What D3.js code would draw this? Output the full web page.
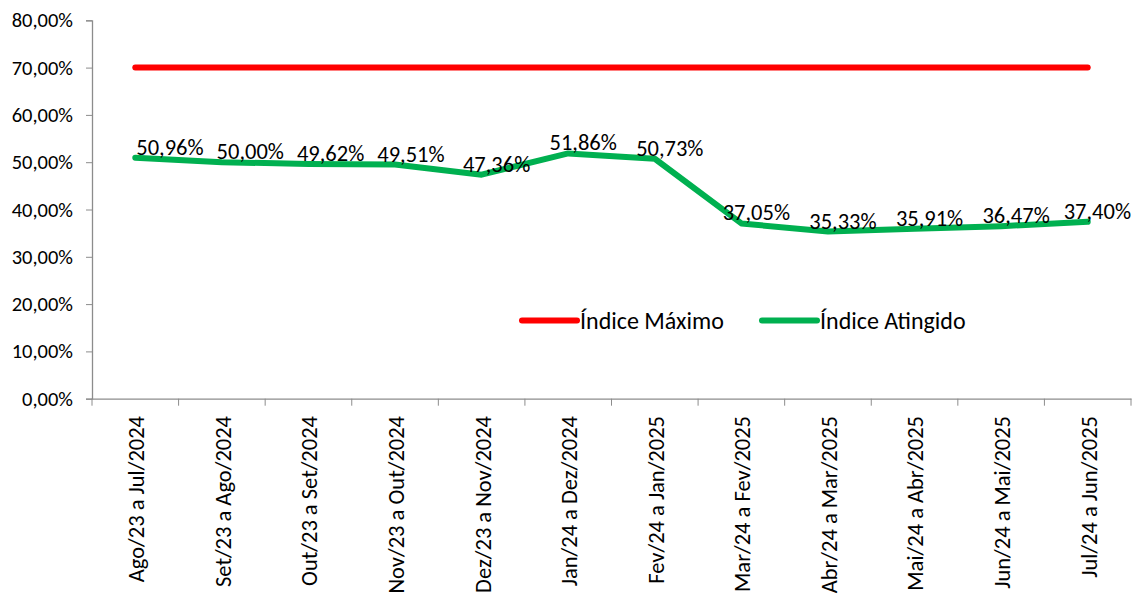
<!DOCTYPE html>
<html>
<head>
<meta charset="utf-8">
<script src="https://cdn.jsdelivr.net/npm/d3@7"></script>
<style>
  html, body { margin: 0; padding: 0; background: #fff; }
  svg text { font-family: Carlito, Lato, "Liberation Sans", sans-serif; fill: #000; }
</style>
</head>
<body>
<svg id="chart"></svg>
<script>
// chart data
const periods = [
  "Ago/23 a Jul/2024", "Set/23 a Ago/2024", "Out/23 a Set/2024", "Nov/23 a Out/2024",
  "Dez/23 a Nov/2024", "Jan/24 a Dez/2024", "Fev/24 a Jan/2025", "Mar/24 a Fev/2025",
  "Abr/24 a Mar/2025", "Mai/24 a Abr/2025", "Jun/24 a Mai/2025", "Jul/24 a Jun/2025"
];
const indiceMaximo = [70, 70, 70, 70, 70, 70, 70, 70, 70, 70, 70, 70];
const indiceAtingido = [50.96, 50.00, 49.62, 49.51, 47.36, 51.86, 50.73, 37.05, 35.33, 35.91, 36.47, 37.40];
const yTicks = [0, 10, 20, 30, 40, 50, 60, 70, 80];
const seriesNames = ["Índice Máximo", "Índice Atingido"];

const width = 1133, height = 603;
const plotLeft = 92, plotRight = 1131, plotTop = 20.3, plotBottom = 398.7;
const fmt = v => v.toFixed(2).replace(".", ",") + "%";
const axisColor = "#8c8c8c";
const red = "#ff0000", green = "#00b050";

const svg = d3.select("#chart")
  .attr("width", width)
  .attr("height", height);

// scales
const xScale = d3.scaleBand()
  .domain(periods)
  .range([plotLeft, plotRight]);

const yScale = d3.scaleLinear()
  .domain([0, 80])
  .range([plotBottom, plotTop]);

// y axis
const yAxis = svg.append("g")
  .attr("transform", `translate(${plotLeft},0)`)
  .call(d3.axisLeft(yScale).tickValues(yTicks).tickSize(6).tickPadding(13).tickFormat(fmt));

// x axis
const xAxis = svg.append("g")
  .attr("transform", `translate(0,${plotBottom})`)
  .call(d3.axisBottom(xScale).tickSize(0).tickFormat(""));

// tick marks on category boundaries
xAxis.selectAll(".boundary")
  .data(d3.range(periods.length + 1))
  .enter().append("line")
  .attr("class", "boundary")
  .attr("x1", i => plotLeft + i * xScale.step())
  .attr("x2", i => plotLeft + i * xScale.step())
  .attr("y1", 0)
  .attr("y2", 7)
  .attr("stroke", axisColor);

[xAxis, yAxis].map((axis) => {
  axis.select(".domain").attr("stroke", axisColor).attr("stroke-width", 1.3);
  axis.selectAll(".tick line").attr("stroke", axisColor);
  return true;
});

yAxis.selectAll(".tick text")
  .style("font-size", "20.5px")
  .attr("fill", "#000");
yAxis.attr("font-family", null);
xAxis.attr("font-family", null);

// rotated category labels
svg.append("g")
  .selectAll("text")
  .data(periods)
  .enter().append("text")
  .attr("transform", d => `translate(${xScale(d) + xScale.bandwidth() / 2 + 1},416) rotate(-90)`)
  .attr("text-anchor", "end")
  .attr("dy", "0.35em")
  .style("font-size", "22.5px")
  .text(d => d);

// lines
const line = (values) => d3.line()
  .x((d, i) => xScale(periods[i]) + xScale.bandwidth() / 2)
  .y(d => yScale(d))(values);

svg.append("path")
  .attr("d", line(indiceMaximo))
  .attr("fill", "none")
  .attr("stroke", red)
  .attr("stroke-width", 6)
  .attr("stroke-linecap", "round")
  .attr("stroke-linejoin", "round");

svg.append("path")
  .attr("d", line(indiceAtingido))
  .attr("fill", "none")
  .attr("stroke", green)
  .attr("stroke-width", 6)
  .attr("stroke-linecap", "round")
  .attr("stroke-linejoin", "round");

// data labels, pushed right to avoid overlaps
const labels = svg.append("g")
  .selectAll("text")
  .data(indiceAtingido)
  .enter().append("text")
  .attr("text-anchor", "start")
  .style("font-size", "22.5px")
  .text(d => fmt(d));

let prevRight = -Infinity;
labels.each(function (d, i) {
  const cx = xScale(periods[i]) + xScale.bandwidth() / 2;
  const w = this.getComputedTextLength();
  let x0 = cx + 15 - w / 2;
  if (i === 0) x0 = Math.max(x0, cx + 1);
  x0 = Math.max(x0, prevRight + 13);
  x0 = Math.min(x0, plotRight - w);
  prevRight = x0 + w;
  d3.select(this)
    .attr("x", x0)
    .attr("y", yScale(d) - 3);
});

// legend
const legend = svg.append("g");
const legendItems = [
  { name: seriesNames[0], color: red, x: 522 },
  { name: seriesNames[1], color: green, x: 762 }
];
legendItems.forEach((item) => {
  legend.append("line")
    .attr("x1", item.x)
    .attr("x2", item.x + 55)
    .attr("y1", 320.5)
    .attr("y2", 320.5)
    .attr("stroke", item.color)
    .attr("stroke-width", 6)
    .attr("stroke-linecap", "round");
  legend.append("text")
    .attr("x", item.x + 58)
    .attr("y", 320.5)
    .attr("dy", "0.35em")
    .style("font-size", "24px")
    .text(item.name);
});
</script>
</body>
</html>
